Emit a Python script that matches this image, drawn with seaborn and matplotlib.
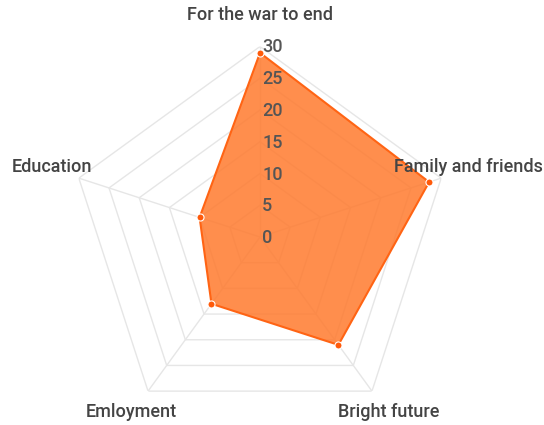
import numpy as np
import matplotlib
matplotlib.use("Agg")
import matplotlib.pyplot as plt
import seaborn as sns
import pandas as pd

categories = ["For the war to end", "Family and friends", "Bright future", "Emloyment", "Education"]
values = [29, 28, 21, 13, 10]
tick_values = [0, 5, 10, 15, 20, 25, 30]

sns.set_theme(style="white")
plt.rcParams["font.family"] = ["Roboto", "DejaVu Sans"]

W, H = 544, 425
fig = plt.figure(figsize=(W / 100, H / 100), dpi=100)
cx, cy, R = 260, 237, 190.5
ax = fig.add_axes([(cx - R) / W, (H - cy - R) / H, 2 * R / W, 2 * R / H], projection="polar")
ax.set_theta_zero_location("N")
ax.set_theta_direction(-1)
ax.set_ylim(0, 30)
ax.grid(False)
ax.spines["polar"].set_visible(False)
ax.set_xticks([])
ax.set_yticks([])
ax.patch.set_alpha(0)

n = len(categories)
angles = np.linspace(0, 2 * np.pi, n, endpoint=False)
grid_color = "#e6e6e6"
for t in tick_values[1:]:
    ax.plot(np.append(angles, angles[0]), [t] * (n + 1), color=grid_color, lw=1, zorder=1)
for a in angles:
    ax.plot([a, a], [0, 30], color=grid_color, lw=1, zorder=1)

df = pd.DataFrame({"theta": angles, "r": values, "cat": categories})
closed_t = np.append(angles, angles[0])
closed_r = np.append(values, values[0])
ax.fill(closed_t, closed_r, color="#ff7a2e", alpha=0.85, zorder=2, lw=0)
ax.plot(closed_t, closed_r, color="#ff6414", lw=1.5, zorder=3)
sns.scatterplot(data=df, x="theta", y="r", ax=ax, color="#ff5a0a", s=26,
                edgecolor="white", linewidth=0.8, zorder=4, legend=False)
ax.set_xlabel("")
ax.set_ylabel("")
ax.set_ylim(0, 30)

for t in tick_values:
    ax.annotate(str(t), xy=(0, t), xytext=(2, -1), textcoords="offset pixels",
                ha="left", va="center", fontsize=13, color="#555555", zorder=5,
                fontweight="medium")

offsets = [(0, 31, "center"), (-47, 11, "left"), (17, -21, "center"), (-17, -21, "center"), (13, 11, "right")]
for a, c, (dx, dy, ha) in zip(angles, categories, offsets):
    ax.annotate(c, xy=(a, 30), xytext=(dx, dy), textcoords="offset pixels",
                ha=ha, va="center", fontsize=13, color="#444444", zorder=6,
                fontweight="medium", annotation_clip=False)

fig.savefig("out.png", dpi=100)
